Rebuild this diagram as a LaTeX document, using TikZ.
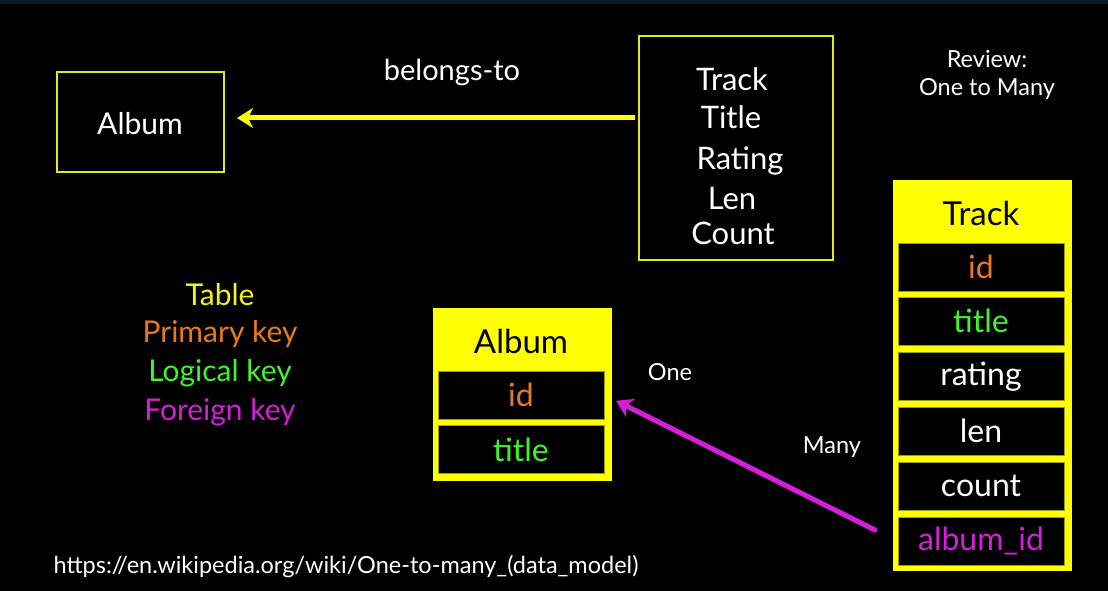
\documentclass[tikz,border=0pt]{standalone}
\usepackage{fontspec}
\setmainfont{Lato}
\usetikzlibrary{arrows.meta,calc}
\definecolor{boxline}{HTML}{E6E620}
\definecolor{tablefill}{HTML}{FFFF00}
\definecolor{rowline}{HTML}{9A9A10}
\definecolor{pkcolor}{HTML}{E8791E}
\definecolor{lkcolor}{HTML}{3EF52A}
\definecolor{fkcolor}{HTML}{D41ED8}
\definecolor{tblcolor}{HTML}{F2F21C}
\definecolor{topstrip}{HTML}{0C1A28}
\newcommand\pxsize[1]{\fontsize{#1}{#1}\selectfont}
\begin{document}
\begin{tikzpicture}[x=1pt,y=-1pt,
  plainbox/.style={draw=boxline, line width=2pt, fill=black},
  tablebg/.style={fill=tablefill, draw=tablefill, inner sep=0pt},
  rowbox/.style={fill=black, draw=rowline, line width=0.8pt, minimum width=166pt, minimum height=48pt, inner sep=0pt, font=\pxsize{32}},
  headtext/.style={text=black, font=\pxsize{33}},
  whitetext/.style={text=white, font=\pxsize{31}},
  smalltext/.style={text=white, font=\pxsize{23.5}},
  legend/.style={font=\pxsize{30}}
]
% page and top strip
\fill[black] (0,0) rectangle (1108,591);
\fill[topstrip] (0,0) rectangle (1108,4);

% conceptual boxes
\node[plainbox, minimum width=167pt, minimum height=100pt] (albumbox) at (140.5,122) {};
\node[whitetext, font=\pxsize{30}] (albumlbl) at (140,124) {Album};
\node[plainbox, minimum width=194pt, minimum height=224pt] (trackbox) at (736,148) {};
\node[whitetext] (t1) at (732,79) {Track};
\node[whitetext] (t2) at (731,117) {Title};
\node[whitetext] (t3) at (740,161) {Rating};
\node[whitetext] (t4) at (732,199) {Len};
\node[whitetext] (t5) at (733,233) {Count};
\node[whitetext, font=\pxsize{29}] (belongs) at (452,72) {belongs-to};
\draw[tablefill, line width=5pt, -{Stealth[length=16pt,width=20pt,inset=5pt]}, shorten >=12pt]
  ($(albumbox.east -| trackbox.west)+(-3,-4)$) -- ($(albumbox.east)+(0,-4)$);

\node[smalltext] (review1) at (987,59) {Review:};
\node[smalltext] (review2) at (987,89) {One to Many};

% legend
\node[legend, text=tblcolor] (lgtable) at (220,295) {Table};
\node[legend, text=pkcolor] (lgpk) at (220,334) {Primary key};
\node[legend, text=lkcolor] (lglk) at (220,373) {Logical key};
\node[legend, text=fkcolor] (lgfk) at (220,412) {Foreign key};

% Album table
\node[tablebg, minimum width=178pt, minimum height=172pt] (albumtbl) at (522,394) {};
\node[headtext] (albumhead) at (521,341) {Album};
\node[rowbox, text=pkcolor] (aid) at (521,395) {id};
\node[rowbox, text=lkcolor] (atitle) at (521,449.5) {title};

% Track table
\node[tablebg, minimum width=178pt, minimum height=390pt] (tracktbl) at (982,375) {};
\node[headtext] (trackhead) at (981,213) {Track};
\node[rowbox, text=pkcolor] (tid) at (981,267) {id};
\node[rowbox, text=lkcolor] (ttitle) at (981,321) {title};
\node[rowbox, text=white] (trating) at (981,376.5) {rating};
\node[rowbox, text=white] (tlen) at (981,431) {len};
\node[rowbox, text=white] (tcount) at (981,486) {count};
\node[rowbox, text=fkcolor] (talbum) at (981,541) {album\_id};

% one-to-many link
\node[smalltext] (onelbl) at (670,372) {One};
\node[smalltext] (manylbl) at (832,447) {Many};
\coordinate (manystart) at (875,530);
\draw[fkcolor, line width=5pt, line cap=round, -{Stealth[length=16pt,width=20pt,inset=5pt]}, shorten >=13pt]
  (manystart) -- (aid.east);

% reference link
\node[smalltext] (url) at (346,567) {https://en.wikipedia.org/wiki/One-to-many\_(data\_model)};
\end{tikzpicture}
\end{document}
